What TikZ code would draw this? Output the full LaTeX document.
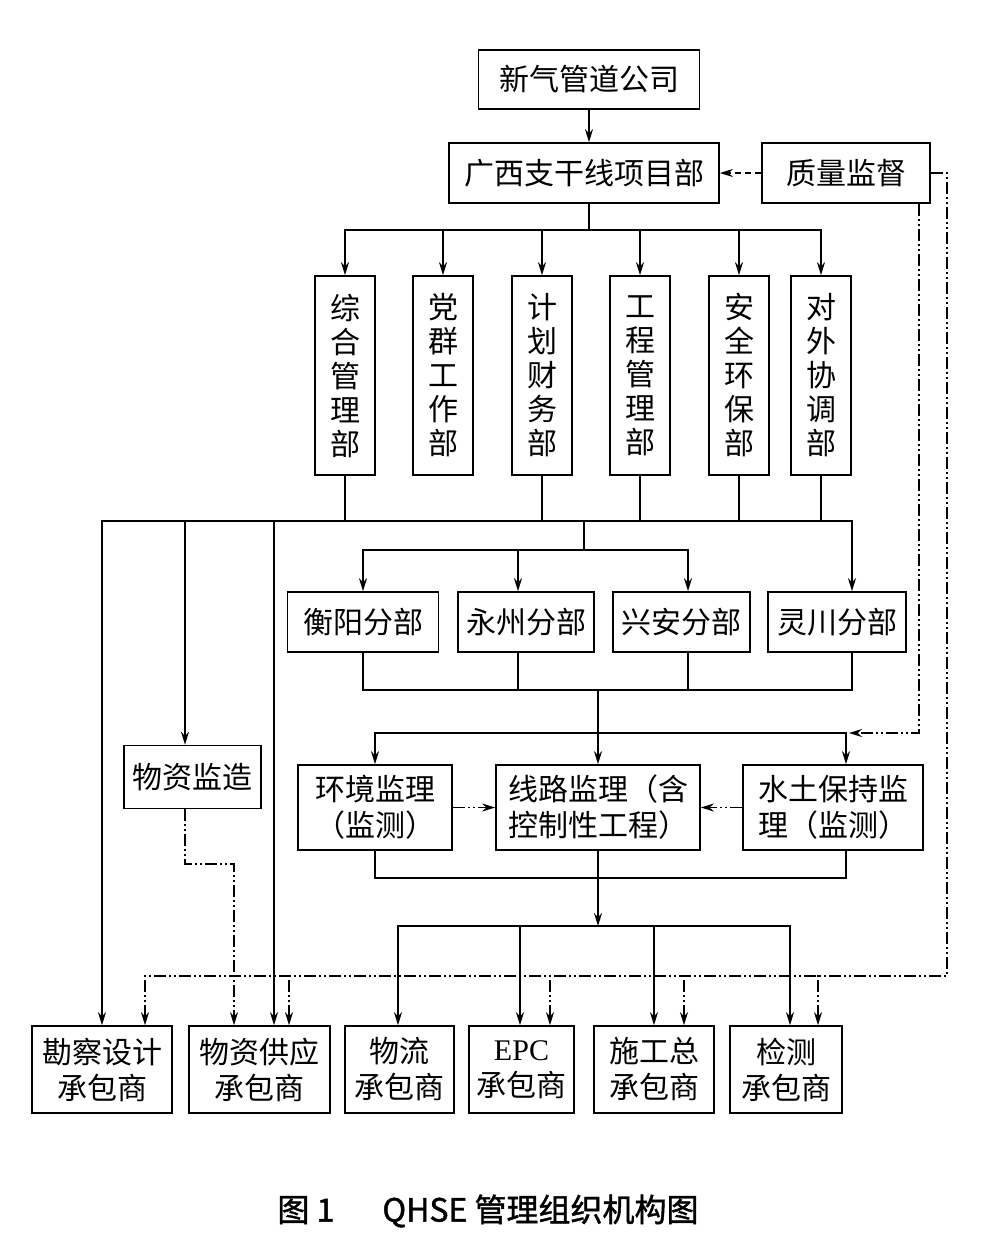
\documentclass[tikz,border=0pt]{standalone}
\usepackage{fontspec}
\setmainfont{Liberation Serif}
\newfontfamily\cjk{Noto Sans CJK SC}
\newfontfamily\cjkcap{Noto Sans CJK SC}[FakeBold = 1.3]
\usetikzlibrary{arrows.meta}

\begin{document}
\begin{tikzpicture}[x = 1pt, y = -1pt, > = {Stealth[length = 13pt, width = 8pt]}, line width = 1.7pt,
	orgbox/.style = {draw, inner sep = 0pt, align = center, font = \cjk\fontsize{30}{36}\selectfont},
	deptbox/.style = {orgbox, minimum width = 60pt, minimum height = 199pt, font = \cjk\fontsize{30}{34}\selectfont},
	branchbox/.style = {orgbox, minimum height = 60pt},
	firmbox/.style = {orgbox, minimum height = 87pt},
	qcline/.style = {dash pattern = on 12pt off 3pt on 2pt off 3pt on 2pt off 3pt}]

	\useasboundingbox (0, 0) rectangle (981, 1248);

	% Company and project office

	\node [orgbox, minimum width = 221pt, minimum height = 59pt] (comp) at (589, 79.5) {新气管道公司};
	\node [orgbox, minimum width = 270pt, minimum height = 60pt] (proj) at (584, 173) {广西支干线项目部};
	\node [orgbox, minimum width = 168pt, minimum height = 60pt] (qs) at (846, 173) {质量监督};

	\draw [->] (comp.south) -- (comp.south |- proj.north);
	\draw [dash pattern = on 6pt off 4pt, ->] (qs) -- (proj);

	% Junctions

	\coordinate (j1) at (589, 230);
	\coordinate (j2) at (584, 521);
	\coordinate (j3) at (584, 550);
	\coordinate (j4) at (598, 690);
	\coordinate (j5) at (598, 733);
	\coordinate (j6) at (849, 733);
	\coordinate (j7) at (598, 878);
	\coordinate (j8) at (598, 926);
	\coordinate (j9) at (234, 864);
	\coordinate (q1) at (947, 976);
	\coordinate (q2) at (145, 976);

	% Departments

	\draw (j1 |- proj.south) -- (j1);
	\foreach \name/\x/\txt in {zh/345/{综\\合\\管\\理\\部}, dq/443/{党\\群\\工\\作\\部}, jh/542/{计\\划\\财\\务\\部}, gc/640/{工\\程\\管\\理\\部}, aq/739/{安\\全\\环\\保\\部}, dw/821/{对\\外\\协\\调\\部}}
	{
		\node [deptbox] (\name) at (\x, 375.5) {\txt};
		\draw [->] (j1) -| (\name.north);
	}
	\foreach \name in {zh, jh, gc, aq, dw}
		\draw (\name.south) |- (j2);

	% Branch offices

	\node [branchbox, minimum width = 151pt] (hy) at (363, 622) {衡阳分部};
	\node [branchbox, minimum width = 136pt] (yz) at (526, 622) {永州分部};
	\node [branchbox, minimum width = 137pt] (xa) at (681.5, 622) {兴安分部};
	\node [branchbox, minimum width = 138pt] (lc) at (837, 622) {灵川分部};

	\draw (j2) -- (j3);
	\draw [->] (j3) -| (hy.north);
	\draw [->] (j3) -| ([xshift = -8pt]yz.north);
	\draw [->] (j3) -| ([xshift = 6.5pt]xa.north);
	\draw [->] (j2) -| ([xshift = 15pt]lc.north);
	\draw (hy.south) |- (j4);
	\draw ([xshift = -8pt]yz.south) |- (j4);
	\draw ([xshift = 6.5pt]xa.south) |- (j4);
	\draw ([xshift = 15pt]lc.south) |- (j4);

	% Supervision

	\node [orgbox, minimum width = 137pt, minimum height = 63pt] (wj) at (192.5, 777) {物资监造};
	\node [orgbox, minimum width = 154pt, minimum height = 85pt] (hj) at (375, 807.5) {环境监理\\（监测）};
	\node [orgbox, minimum width = 204pt, minimum height = 85pt] (xl) at (598, 807.5) {线路监理（含\\控制性工程）};
	\node [orgbox, minimum width = 180pt, minimum height = 85pt] (st) at (833, 807.5) {水土保持监\\理（监测）};

	\draw [->] (j4) -- (xl.north);
	\draw [->] (j5) -| (hj.north);
	\draw [->] (j5) -| ([xshift = 13pt]st.north);
	\draw [qcline, ->] ([xshift = 73pt]qs.south) |- (j6);
	\draw [qcline, ->] (hj) -- (xl);
	\draw [qcline, ->] (st) -- (xl);
	\draw (hj.south) |- (j7);
	\draw ([xshift = 13pt]st.south) |- (j7);
	\draw [->] (xl.south) -- (j8);

	% Contractors

	\foreach \name/\x/\w/\txt in {kc/102/140/{勘察设计\\承包商}, gy/259.5/141/{物资供应\\承包商}, wl/399.5/109/{物流\\承包商}, epc/521.5/105/{{\rmfamily EPC}\\承包商}, sg/654/120/{施工总\\承包商}, jc/786/112/{检测\\承包商}}
		\node [firmbox, minimum width = \w pt] (\name) at (\x, 1069.5) {\txt};

	\draw [->] (j2) -| (kc.north);
	\draw [->] (j2) -| ([xshift = -7.5pt]wj.north);
	\draw [->] (j2) -| ([xshift = 14.5pt]gy.north);
	\draw [qcline, ->] ([xshift = -7.5pt]wj.south) |- (j9) -- (j9 |- gy.north);
	\draw [->] (j8) -| ([xshift = -1.5pt]wl.north);
	\draw [->] (j8) -| ([xshift = -1.5pt]epc.north);
	\draw [->] (j8) -| (sg.north);
	\draw [->] (j8) -| ([xshift = 4pt]jc.north);

	% Quality supervision to contractors

	\draw [qcline] (qs.east) -| (q1) -- (q2);
	\foreach \name/\dx in {kc/43, gy/29.5, epc/28.5, sg/30, jc/32}
		\draw [qcline, <-] ([xshift = \dx pt]\name.north) -- ++(0, -50);

	% Caption

	\node [font = \cjkcap\fontsize{32}{38}\selectfont] (cap) at (488, 1211) {图 1\hspace{1.5em}QHSE 管理组织机构图};

\end{tikzpicture}
\end{document}
